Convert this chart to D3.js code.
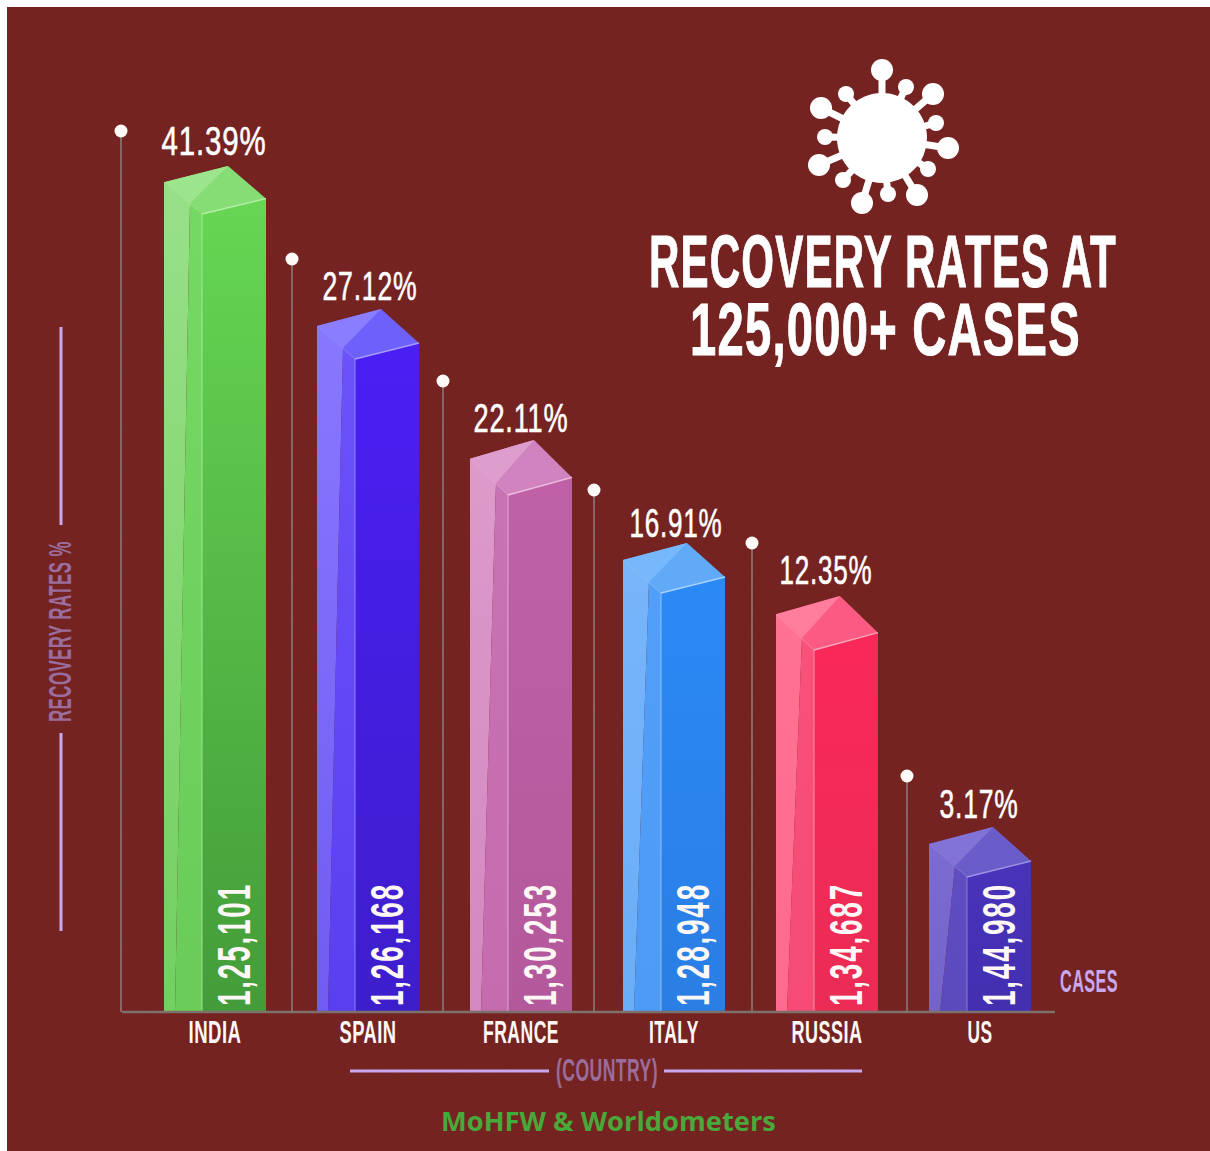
<!DOCTYPE html>
<html><head><meta charset="utf-8">
<script src="https://cdn.jsdelivr.net/npm/d3@7"></script>
<style>html,body{margin:0;padding:0;background:#fff}svg{display:block}</style>
</head><body><svg id="c" width="1210" height="1151"></svg>
<script>
// ---- data ----
const countries = ["INDIA","SPAIN","FRANCE","ITALY","RUSSIA","US"];
const recoveryRates = [41.39,27.12,22.11,16.91,12.35,3.17];
const cases = ["1,25,101","1,26,168","1,30,253","1,28,948","1,34,687","1,44,980"];
const titleLines = ["RECOVERY RATES AT","125,000+ CASES"];
const sourceText = "MoHFW & Worldometers";

// ---- layout & style, separate from the data ----
// The bars in the picture are not proportional, so the value scale has several stops.
const W=1210,H=1151,base=1012;
const y=d3.scaleLinear()
  .domain([0,3.17,12.35,16.91,22.11,27.12,41.39])
  .range([base,877,650,593,495,359,214]);
const x=d3.scaleBand().domain(countries).range([113,1082]).paddingInner(1/3).paddingOuter(1/3);
const pinDx=[43,25,27,29,24,22];
const pinRise=[83,100,114,103,107,101];
const depth=[48,50,55,50,54,50];
const labelDx=[0,3,1,3,0,0];
const labelDy=[-2,0,1,3,-3,0];
const pctW=[105,95,95,93,93,79];
const palette=[
 {f:["#66d653","#439c39"],l:["#98e087","#72d061"],m:["#74d963","#6acb59"],t:"#86dd75",tl:"#9ce58c",e:"#b4f0a6"},
 {f:["#4a1ff4","#3d1ecb"],l:["#8878ff","#6f5cf2"],m:["#6c52fb","#5a3ff0"],t:"#6e60fb",tl:"#8a7dff",e:"#a79cff"},
 {f:["#c061a8","#b3599b"],l:["#dd9aca","#d288c0"],m:["#c873b3","#c56cae"],t:"#d083bf",tl:"#dd9ecd",e:"#f0bfe2"},
 {f:["#2b89f6","#2a7ee4"],l:["#78b5fb","#69aef8"],m:["#519ff8","#4e9bf5"],t:"#60aaf8",tl:"#76b8fb",e:"#a6d2fd"},
 {f:["#fa2858","#ea2c55"],l:["#ff7292","#ff6a8d"],m:["#f8517a","#f54b74"],t:"#fb5b83",tl:"#ff7e9d",e:"#ffa8bd"},
 {f:["#4833ba","#432fb0"],l:["#7c6cd2","#7464c8"],m:["#5f4ec2","#5a4abc"],t:"#6a5cc9",tl:"#8174d6",e:"#9d93e4"}
];
const cond="'Liberation Sans Narrow','Liberation Sans',sans-serif";
const lilac="#c9a8ee", muted="#9b6d9c";
const svg=d3.select("#c");
const defs=svg.append("defs");

// background with a faint paper grain
const grain=defs.append("filter").attr("id","grain").attr("x",0).attr("y",0).attr("width","100%").attr("height","100%");
grain.append("feTurbulence").attr("type","fractalNoise").attr("baseFrequency",0.7).attr("numOctaves",2).attr("seed",4);
grain.append("feColorMatrix").attr("values","0 0 0 0 0  0 0 0 0 0  0 0 0 0 0  0 0 0 0.12 0");
svg.append("rect").attr("x",7).attr("y",7).attr("width",W-7).attr("height",H-7).attr("fill","#792523");
svg.append("rect").attr("x",7).attr("y",7).attr("width",W-7).attr("height",H-7).attr("filter","url(#grain)").attr("opacity",0.6);

function grad(id,c){
  const g=defs.append("linearGradient").attr("id",id).attr("x1",0).attr("y1",0).attr("x2",0).attr("y2",1);
  g.append("stop").attr("offset",0).attr("stop-color",c[0]);
  g.append("stop").attr("offset",1).attr("stop-color",c[1]);
  return `url(#${id})`;
}
// squeeze or stretch a text horizontally to a measured width
function fit(sel,w){
  const nat=sel.node().getComputedTextLength();
  const tx=sel.attr("x"), ty=sel.attr("y");
  let tr=sel.attr("transform")||"";
  if(tx!==null&&!sel.node().closest(".tick")){ tr=`translate(${tx},${ty||0}) `+tr; sel.attr("x",null).attr("y",null); }
  return sel.attr("transform",`${tr} scale(${w/nat},1)`);
}
const poly=(g,pts,fill)=>g.append("polygon").attr("points",pts.map(p=>p.join(",")).join(" ")).attr("fill",fill);

// pins
const pins=svg.append("g").selectAll("g").data(countries).join("g");
pins.append("line")
  .attr("x1",(d,i)=>x(d)-pinDx[i]).attr("x2",(d,i)=>x(d)-pinDx[i])
  .attr("y1",(d,i)=>y(recoveryRates[i])-pinRise[i]).attr("y2",base)
  .attr("stroke","#8a7a76").attr("stroke-width",1.6);
pins.append("circle")
  .attr("cx",(d,i)=>x(d)-pinDx[i]).attr("cy",(d,i)=>y(recoveryRates[i])-pinRise[i])
  .attr("r",6.5).attr("fill","#fdfaf8");

// bars
countries.forEach((c,i)=>{
  const g=svg.append("g"), p=palette[i];
  const L=x(c), R=L+x.bandwidth(), F=L+38, T=y(recoveryRates[i]);
  const dp=depth[i], k=dp/50;
  const left=[L,T-33*k], back=[F+26,T-dp], right=[R,T-16*k], front=[F,T];
  const split=[L+26,T-11*k];           // where the highlight meets the top face
  poly(g,[left,split,[L+11,base],[L,base]],grad("l"+i,p.l));
  poly(g,[split,front,[F,base],[L+11,base]],grad("m"+i,p.m));
  poly(g,[front,right,[R,base],[F,base]],grad("f"+i,p.f));
  poly(g,[left,back,right,front],p.t);
  poly(g,[left,back,split],p.tl);
  g.append("polyline").attr("points",[left,front].map(q=>q.join(",")).join(" "))
    .attr("fill","none").attr("stroke",p.e).attr("stroke-width",1).attr("opacity",.55);
  g.append("polyline").attr("points",[front,right].map(q=>q.join(",")).join(" "))
    .attr("fill","none").attr("stroke",p.e).attr("stroke-width",1.3);
  g.append("line").attr("x1",F).attr("x2",F).attr("y1",T).attr("y2",base).attr("stroke",p.e).attr("stroke-width",1).attr("opacity",.75);
  // percentage on top
  fit(g.append("text").attr("x",L+50+labelDx[i]).attr("y",T-dp-9+labelDy[i]).attr("text-anchor","middle")
    .attr("font-family",cond).attr("font-size",40).attr("letter-spacing",1.2).attr("fill","#fff")
    .attr("stroke","#fff").attr("stroke-width",0.6).text(recoveryRates[i].toFixed(2)+"%"),pctW[i]);
  // rotated case count
  fit(g.append("text").attr("transform",`translate(${F+48},1006) rotate(-90)`)
    .attr("font-family",cond).attr("font-weight",700).attr("font-size",46).attr("letter-spacing",3).attr("fill","#fdf8f6").text(cases[i]),123);
});

// baseline and country axis
const axis=svg.append("g").attr("transform",`translate(0,${base})`).call(d3.axisBottom(x).tickSize(0).tickPadding(8));
axis.select(".domain").remove();
axis.append("line").attr("x1",122).attr("x2",1055).attr("stroke","#7e706b").attr("stroke-width",2.4);
const labelW=[53,57,76,50,71,25];
axis.selectAll(".tick text").attr("font-family",cond).attr("font-weight",700).attr("font-size",32)
  .attr("letter-spacing",0.8).attr("fill","#fdf8f6").attr("dy","0.71em")
  .each(function(d,i){fit(d3.select(this),labelW[i]);});

// axis captions
const cap=(t,tx,ty,rot,w,fill,fs)=>fit(svg.append("text").attr("transform",`translate(${tx},${ty}) rotate(${rot})`)
  .attr("font-family",cond).attr("font-weight",700).attr("font-size",fs).attr("letter-spacing",0.8).attr("fill",fill).text(t),w);
cap("RECOVERY RATES %",71,722,-90,181,muted,31);
cap("(COUNTRY)",556,1081,0,102,muted,31);
cap("CASES",1060,992,0,58,lilac,31);
[[61,327,61,525],[61,733,61,931],[350,1071,549,1071],[664,1071,862,1071]].forEach(s=>
  svg.append("line").attr("x1",s[0]).attr("y1",s[1]).attr("x2",s[2]).attr("y2",s[3]).attr("stroke",lilac).attr("stroke-width",3));

// title
const ttl=(t,tx,ty,w)=>fit(svg.append("text").attr("x",tx).attr("y",ty).attr("font-family",cond).attr("font-weight",700)
  .attr("font-size",74).attr("letter-spacing",2).attr("fill","#fff").attr("stroke","#fff").attr("stroke-width",1).text(t),w);
ttl(titleLines[0],649,287,468);
ttl(titleLines[1],690,355,391);

// source
fit(svg.append("text").attr("x",441).attr("y",1131).attr("font-family","'Open Sans','Noto Sans',sans-serif").attr("font-weight",700).attr("font-size",27).attr("fill","#49a83a").text(sourceText),335);

// virus icon
const spikes=[[882,70,11],[906,87,8],[933,94,11],[936,123,8],[948,148,11],[928,169,8],[917,195,11],[888,194,8],[862,203,11],[843,180,8],[819,165,11],[825,137,8],[821,108,11],[846,94,8]];
const virus=svg.append("g").attr("fill","#fff");
virus.selectAll("line").data(spikes).join("line").attr("x1",882).attr("y1",138).attr("x2",d=>d[0]).attr("y2",d=>d[1]).attr("stroke","#fff").attr("stroke-width",7);
virus.selectAll("circle.s").data(spikes).join("circle").attr("class","s").attr("cx",d=>d[0]).attr("cy",d=>d[1]).attr("r",d=>d[2]);
virus.append("circle").attr("cx",882).attr("cy",138).attr("r",45);
</script></body></html>
